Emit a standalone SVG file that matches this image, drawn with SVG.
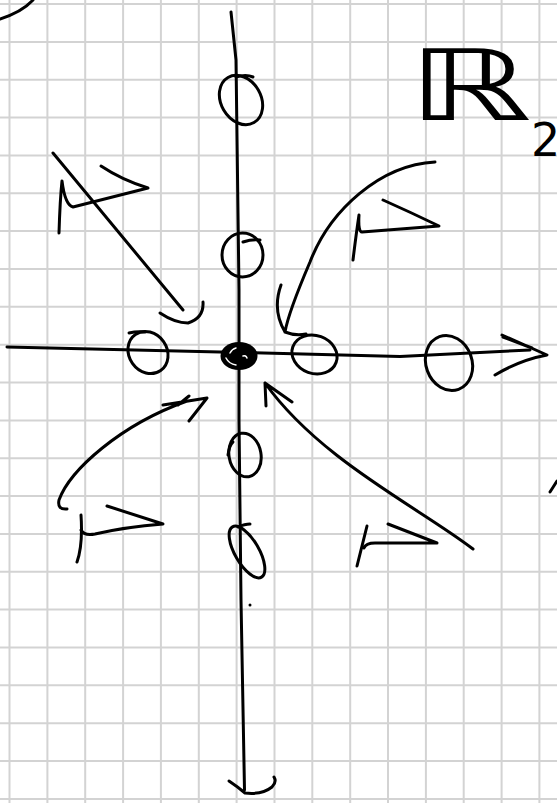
<svg xmlns="http://www.w3.org/2000/svg" width="557" height="803" viewBox="0 0 557 803">
<style>
.g{stroke:#d3d3d3;stroke-width:2;fill:none}
.s{stroke:#000;stroke-width:3;fill:none;stroke-linecap:round;stroke-linejoin:round}
.w{stroke:#fff;stroke-width:1.5;fill:none;stroke-linecap:round}
.t{font-family:"DejaVu Sans","Liberation Sans",sans-serif;fill:#000}
</style>
<rect width="557" height="803" fill="#fff"/>
<g id="grid" class="g">
<path d="M9.5,0V803M47.4,0V803M85.2,0V803M123.1,0V803M160.9,0V803M198.8,0V803M236.6,0V803M274.5,0V803M312.3,0V803M350.2,0V803M388,0V803M425.9,0V803M463.7,0V803M501.6,0V803M539.4,0V803"/>
<path d="M0,4H557M0,41.9H557M0,79.7H557M0,117.6H557M0,155.4H557M0,193.3H557M0,231.1H557M0,269H557M0,306.8H557M0,344.7H557M0,382.5H557M0,420.4H557M0,458.2H557M0,496.1H557M0,533.9H557M0,571.8H557M0,609.6H557M0,647.5H557M0,685.3H557M0,723.2H557M0,761H557M0,798.9H557"/>
</g>
<g id="connectors">
<path id="corner-arc" class="s" d="M0,19 Q22,12 33,0"/>
<path id="y-axis" class="s" d="M231,12 L236,60 L239,290 L239,420 L241,600 L244.5,790"/>
<path id="y-axis-head" class="s" d="M229,781 Q238,787 245,793 Q262,795 272,787 Q277,782 274,777"/>
<path id="x-axis" class="s" d="M7,347 L220,352 L400,356.5 L530,350"/>
<path id="x-axis-head" class="s" d="M502,335 L547,355 Q520,360 495,375 M503,337 L532,348"/>
<path id="arrow-tl" class="s" d="M53,153 L183,310 M160,313 Q175,323 188,323 Q204,318 203,302"/>
<path id="arrow-tr" class="s" d="M435,162 C380,165 330,210 310,262 C298,290 288,315 285,332 M281,285 Q272,310 285,332 Q295,336 306,334"/>
<path id="arrow-bl" class="s" d="M67,509 Q57,510 59,500 C70,470 120,425 187,401 M163,405 L207,398 L189,421 M178,405 L189,396"/>
<path id="arrow-br" class="s" d="M473,549 C420,508 320,460 265,383 M266,406 L265,383 L292,402"/>
</g>
<g id="flag-tl"><path class="s" d="M59,233 Q60,200 62,181 Q65,205 73,207 L148,188 Q122,180 101,166"/></g>
<g id="flag-tr"><path class="s" d="M353,260 Q356,235 359,215 Q358,232 362,232 L439,226 Q410,212 383,200"/></g>
<g id="flag-bl"><path class="s" d="M77,562 Q83,545 81,515 M81,530 Q84,536 95,534 Q125,527 163,524 L107,506"/></g>
<g id="flag-br"><path class="s" d="M357,566 Q362,546 367,526 M364,548 Q366,543 375,543 L437,543 L388,524"/></g>
<g id="node-top1"><ellipse class="s" cx="241" cy="100" rx="20" ry="26" transform="rotate(-30 241 100)"/><path class="s" d="M236,77 Q246,74 253,77"/></g>
<g id="node-top2"><ellipse class="s" cx="242.5" cy="255" rx="20.5" ry="22"/><path class="s" d="M243,242 Q252,239 260,240"/></g>
<g id="node-left"><ellipse class="s" cx="148" cy="352.5" rx="19" ry="22" transform="rotate(-35 148 352.5)"/><path class="s" d="M129,333 Q137,331 145,332"/></g>
<g id="node-right"><ellipse class="s" cx="314.5" cy="354.5" rx="23" ry="19" transform="rotate(20 314.5 354.5)"/></g>
<g id="node-far-right"><ellipse class="s" cx="449" cy="363" rx="23" ry="28" transform="rotate(-20 449 363)"/></g>
<g id="node-bottom1"><ellipse class="s" cx="245" cy="455" rx="16" ry="22" transform="rotate(-10 245 455)"/><path class="s" d="M228,455 Q229,446 233,442"/></g>
<g id="node-bottom2"><ellipse class="s" cx="247" cy="552" rx="29" ry="12" transform="rotate(60 247 552)"/><path class="s" d="M238,527 Q245,524 250,524"/></g>
<g id="origin"><ellipse cx="239" cy="356" rx="18.5" ry="14" fill="#000"/><path class="w" d="M226,358 Q229,364 236,365 M230,353 Q232,349 236,348 M243,356 Q246,355 247,358"/></g>
<circle cx="250" cy="605" r="1.5" fill="#000"/>
<path class="s" d="M550,492 L557,481"/>
<g id="label">
<text class="t" x="408" y="120" font-size="98" transform="translate(408 0) scale(1.6 1) translate(-408 0)">ℝ</text>
<text class="t" x="531" y="156" font-size="46">2</text>
</g>
</svg>
